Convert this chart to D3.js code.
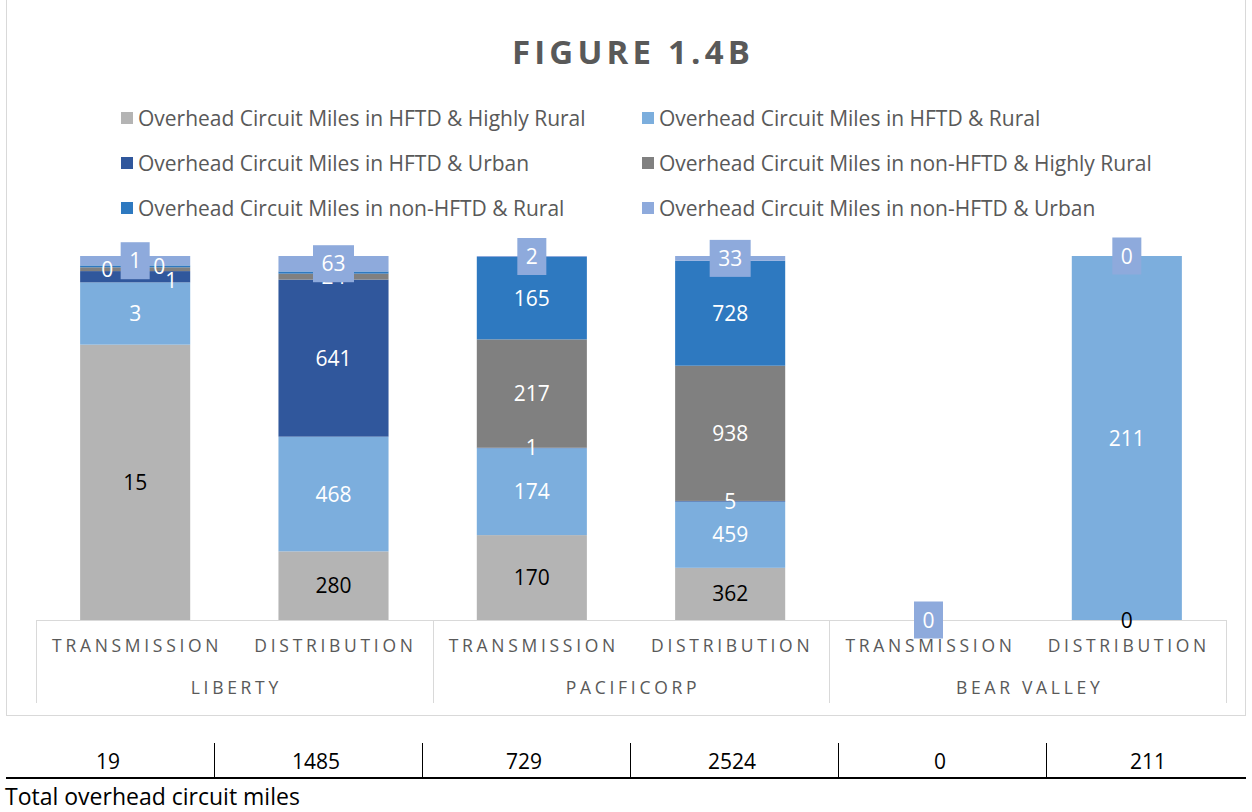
<!DOCTYPE html>
<html>
<head>
<meta charset="utf-8">
<script src="https://cdn.jsdelivr.net/npm/d3@7"></script>
<style>
  body { margin: 0; background: #fff; }
  svg { display: block; font-family: "Open Sans", Lato, sans-serif; }
</style>
</head>
<body>
<div id="chart"></div>
<script>
// categories
const utilities = ["LIBERTY", "PACIFICORP", "BEAR VALLEY"];
const lineTypes = ["TRANSMISSION", "DISTRIBUTION"];
const seriesNames = [
  "Overhead Circuit Miles in HFTD & Highly Rural",
  "Overhead Circuit Miles in HFTD & Rural",
  "Overhead Circuit Miles in HFTD & Urban",
  "Overhead Circuit Miles in non-HFTD & Highly Rural",
  "Overhead Circuit Miles in non-HFTD & Rural",
  "Overhead Circuit Miles in non-HFTD & Urban"
];
const seriesColors = ["#b4b4b4", "#7caedd", "#30579c", "#808080", "#2e79c0", "#8eaadc"];

// series values, one per bar (Liberty T, Liberty D, PacifiCorp T, PacifiCorp D, Bear Valley T, Bear Valley D)
const hftdHighlyRural = [14.6, 280, 170, 362, 0, 0];
const hftdRural = [3.3, 468, 174, 459, 0, 211];
const hftdUrban = [0.6, 641, 1, 5, 0, 0];
const nonHftdHighlyRural = [0.2, 24, 217, 938, 0, 0];
const nonHftdRural = [0.1, 9, 165, 728, 0, 0];
const nonHftdUrban = [0.5, 63, 2, 33, 0, 0];
const totals = [19, 1485, 729, 2524, 0, 211];
const tableTitle = "Total overhead circuit miles";

const seriesValues = [hftdHighlyRural, hftdRural, hftdUrban, nonHftdHighlyRural, nonHftdRural, nonHftdUrban];

// table for d3.stack
const bars = [];
utilities.forEach((u, gi) => {
  lineTypes.forEach((t, ti) => {
    const idx = gi * 2 + ti;
    const row = { key: u + "|" + t, group: u, type: t, idx: idx };
    seriesNames.forEach((s, si) => { row[s] = seriesValues[si][idx]; });
    bars.push(row);
  });
});

const W = 1252, H = 812;
const margin = { left: 36, right: 26, top: 256, bottom: 192 };
const plotW = W - margin.left - margin.right;
const plotBottom = 620;

const svg = d3.select("#chart").append("svg").attr("width", W).attr("height", H);

// chart frame
svg.append("rect")
  .attr("x", 6.5).attr("y", -1).attr("width", 1239).attr("height", 716.5)
  .attr("fill", "none").attr("stroke", "#d9d9d9");

// title
svg.append("text")
  .attr("x", 633).attr("y", 64)
  .attr("text-anchor", "middle")
  .attr("font-size", 33).attr("font-weight", "bold")
  .attr("letter-spacing", 4.2)
  .attr("fill", "#595959")
  .text("FIGURE 1.4B");

// legend
const legend = svg.append("g");
seriesNames.forEach((s, i) => {
  const col = i % 2, row = Math.floor(i / 2);
  const lx = col === 0 ? 121 : 642;
  const ly = 118 + row * 45;
  legend.append("rect")
    .attr("x", lx).attr("y", ly - 6).attr("width", 12).attr("height", 12)
    .attr("fill", seriesColors[i]);
  legend.append("text")
    .attr("x", lx + 17).attr("y", ly + 7.5)
    .attr("font-size", 21).attr("fill", "#595959")
    .text(s);
});

// scales
const x = d3.scaleBand().domain(bars.map(d => d.key)).range([margin.left, margin.left + plotW]).paddingInner(0.445).paddingOuter(0.2225);
const y = d3.scaleLinear().domain([0, 1]).range([plotBottom, margin.top]);
const color = d3.scaleOrdinal().domain(seriesNames).range(seriesColors);

const stacked = d3.stack().keys(seriesNames).offset(d3.stackOffsetExpand)(bars);

svg.append("g").selectAll("g")
  .data(stacked).join("g")
  .attr("fill", d => color(d.key))
  .selectAll("rect")
  .data(d => d).join("rect")
  .attr("x", d => x(d.data.key))
  .attr("y", d => y(d[1]))
  .attr("height", d => Math.max(0, y(d[0]) - y(d[1])))
  .attr("width", x.bandwidth());

// axis
const step = x.step();
const axisG = svg.append("g").attr("stroke", "#d9d9d9");
axisG.append("line")
  .attr("x1", margin.left).attr("x2", margin.left + plotW)
  .attr("y1", plotBottom + 0.5).attr("y2", plotBottom + 0.5);
d3.range(utilities.length + 1).forEach(i => {
  const gx = Math.round(margin.left + i * step * 2) + 0.5;
  axisG.append("line").attr("x1", gx).attr("x2", gx).attr("y1", plotBottom).attr("y2", 703);
});
svg.append("g").selectAll("text")
  .data(bars).join("text")
  .attr("x", d => x(d.key) + x.bandwidth() / 2 + 2)
  .attr("y", 652)
  .attr("text-anchor", "middle")
  .attr("font-size", 17.5).attr("letter-spacing", 3.7)
  .attr("fill", "#595959")
  .text(d => d.type);
svg.append("g").selectAll("text")
  .data(utilities).join("text")
  .attr("x", (d, i) => margin.left + (i * 2 + 1) * step + 2)
  .attr("y", 694)
  .attr("text-anchor", "middle")
  .attr("font-size", 17.5).attr("letter-spacing", 3.7)
  .attr("fill", "#595959")
  .text(d => d);

// data labels (small segments nudged aside like the original layout)
const labelNudge = {
  "LIBERTY|TRANSMISSION|2": [36, 4],
  "LIBERTY|TRANSMISSION|3": [-28, 0],
  "LIBERTY|TRANSMISSION|4": [24, 0]
};
const labels = svg.append("g").attr("font-size", 21).attr("text-anchor", "middle");
stacked.forEach((layer, si) => {
  layer.forEach(d => {
    const nudge = labelNudge[d.data.key + "|" + si] || [0, 0];
    const cx = x(d.data.key) + x.bandwidth() / 2 + nudge[0];
    const cy = y((d[0] + d[1]) / 2) + nudge[1];
    const txt = String(Math.round(d.data[layer.key]));
    const g = labels.append("g");
    if (si === seriesNames.length - 1) {
      const tw = txt.length * 12;
      g.append("rect")
        .attr("x", cx - tw / 2 - 8.5).attr("y", cy - 18.5)
        .attr("width", tw + 17).attr("height", 37)
        .attr("fill", seriesColors[si]);
    }
    g.append("text")
      .attr("x", cx).attr("y", cy + 7.5)
      .attr("fill", si === 0 ? "#000" : "#fff")
      .text(txt);
  });
});
// bring boxed labels to front
labels.selectAll("g").filter(function () { return this.querySelector("rect"); }).raise();

// totals table below
const colW = 208;
const tbl = svg.append("g");
totals.forEach((t, i) => {
  tbl.append("text")
    .attr("x", 6 + colW * i + colW / 2 - 2).attr("y", 769)
    .attr("text-anchor", "middle")
    .attr("font-size", 21).attr("fill", "#000")
    .text(t);
  if (i > 0) {
    tbl.append("line")
      .attr("x1", 6 + colW * i + 0.5).attr("x2", 6 + colW * i + 0.5)
      .attr("y1", 743).attr("y2", 778)
      .attr("stroke", "#000").attr("stroke-width", 1);
  }
});
tbl.append("line")
  .attr("x1", 6).attr("x2", 1246).attr("y1", 778).attr("y2", 778)
  .attr("stroke", "#000").attr("stroke-width", 2);
tbl.append("text")
  .attr("x", 5).attr("y", 805)
  .attr("font-size", 23).attr("fill", "#000")
  .text(tableTitle);
</script>
</body>
</html>
